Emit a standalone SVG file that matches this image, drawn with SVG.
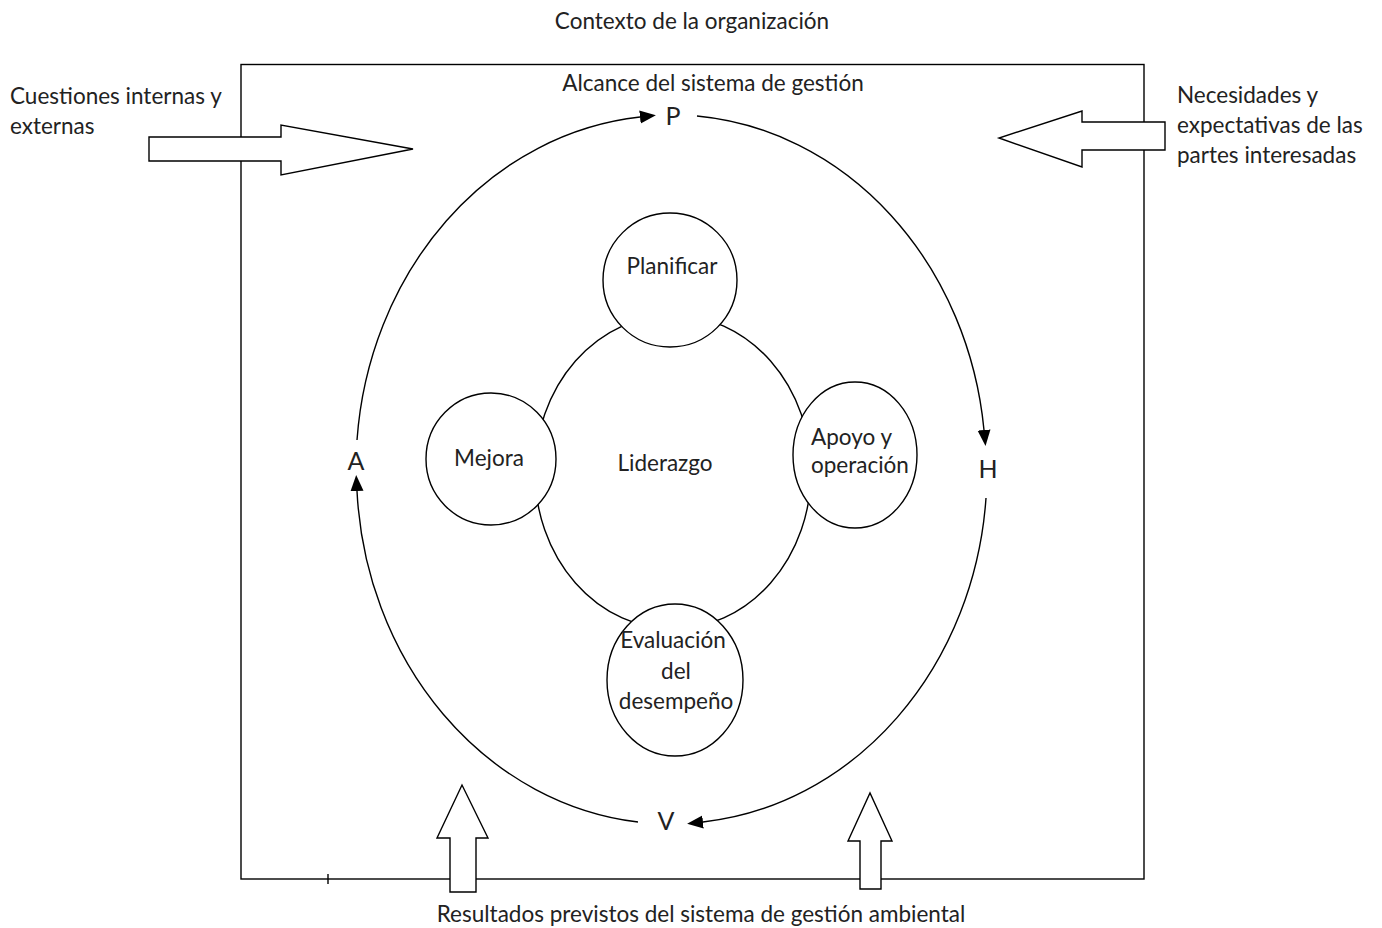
<svg xmlns="http://www.w3.org/2000/svg" width="1382" height="928" viewBox="0 0 1382 928">
<style>
.t{font-family:Lato,"Liberation Sans",sans-serif;font-size:22.5px;fill:#222}
.big{font-family:Lato,"Liberation Sans",sans-serif;font-size:25px;fill:#222}
.c{text-anchor:middle}
.ln{fill:none;stroke:#000;stroke-width:1.4}
.shape{fill:#fff;stroke:#000;stroke-width:1.4}
</style>
<defs>
<marker id="ah" markerUnits="userSpaceOnUse" markerWidth="17" markerHeight="15" refX="0" refY="7.5" orient="auto">
<path d="M0,1 L16,7.5 L0,14 z" fill="#000"/>
</marker>
</defs>
<rect id="frame" x="241" y="64.5" width="903" height="814.5" class="ln"/>
<line x1="328" y1="874" x2="328" y2="884" class="ln"/>
<g id="connectors">
<path class="ln" marker-end="url(#ah)" d="M357,440 A315,353 0 0 1 640,117"/>
<path class="ln" marker-end="url(#ah)" d="M697,116 A315,353 0 0 1 984,430"/>
<path class="ln" marker-end="url(#ah)" d="M986,498 A315,353 0 0 1 703,822"/>
<path class="ln" marker-end="url(#ah)" d="M638,822 A315,353 0 0 1 357,491"/>
</g>
<g id="liderazgo">
<ellipse cx="673" cy="472" rx="138" ry="157" class="ln"/>
<text x="665" y="471" class="t c">Liderazgo</text>
</g>
<g id="planificar">
<ellipse cx="670" cy="280" rx="67" ry="67" class="shape"/>
<text x="672" y="274" class="t c">Planificar</text>
</g>
<g id="mejora">
<ellipse cx="491" cy="459" rx="65" ry="66" class="shape"/>
<text x="489" y="466" class="t c">Mejora</text>
</g>
<g id="apoyo">
<ellipse cx="855" cy="455" rx="62" ry="73" class="shape"/>
<text x="811" y="445" class="t">Apoyo y</text>
<text x="811" y="473" class="t">operación</text>
</g>
<g id="evaluacion">
<ellipse cx="675" cy="680" rx="68" ry="76" class="shape"/>
<text x="673" y="648" class="t c">Evaluación</text>
<text x="676" y="679" class="t c">del</text>
<text x="676" y="709" class="t c">desempeño</text>
</g>
<g id="pdca">
<text x="673" y="125" class="big c">P</text>
<text x="988" y="478" class="big c">H</text>
<text x="666" y="830" class="big c">V</text>
<text x="356" y="470" class="big c">A</text>
</g>
<g id="arrow-left">
<polygon class="shape" points="149,137 281,137 281,125 413,149 281,175 281,161 149,161"/>
</g>
<g id="arrow-right">
<polygon class="shape" points="1165,122 1082,122 1082,111 999,138 1082,167 1082,150 1165,150"/>
</g>
<g id="arrow-bottom-left">
<polygon class="shape" points="450,892 450,838 437,838 462,785 488,838 476,838 476,892"/>
</g>
<g id="arrow-bottom-right">
<polygon class="shape" points="860,889 860,841 848,841 870,793 892,841 881,841 881,889"/>
</g>
<g id="labels">
<text x="692" y="29" class="t c">Contexto de la organización</text>
<text x="713" y="91" class="t c">Alcance del sistema de gestión</text>
<text x="10" y="104" class="t">Cuestiones internas y</text>
<text x="10" y="134" class="t">externas</text>
<text x="1177" y="103" class="t">Necesidades y</text>
<text x="1177" y="133" class="t">expectativas de las</text>
<text x="1177" y="163" class="t">partes interesadas</text>
<text x="701" y="922" class="t c">Resultados previstos del sistema de gestión ambiental</text>
</g>
</svg>
